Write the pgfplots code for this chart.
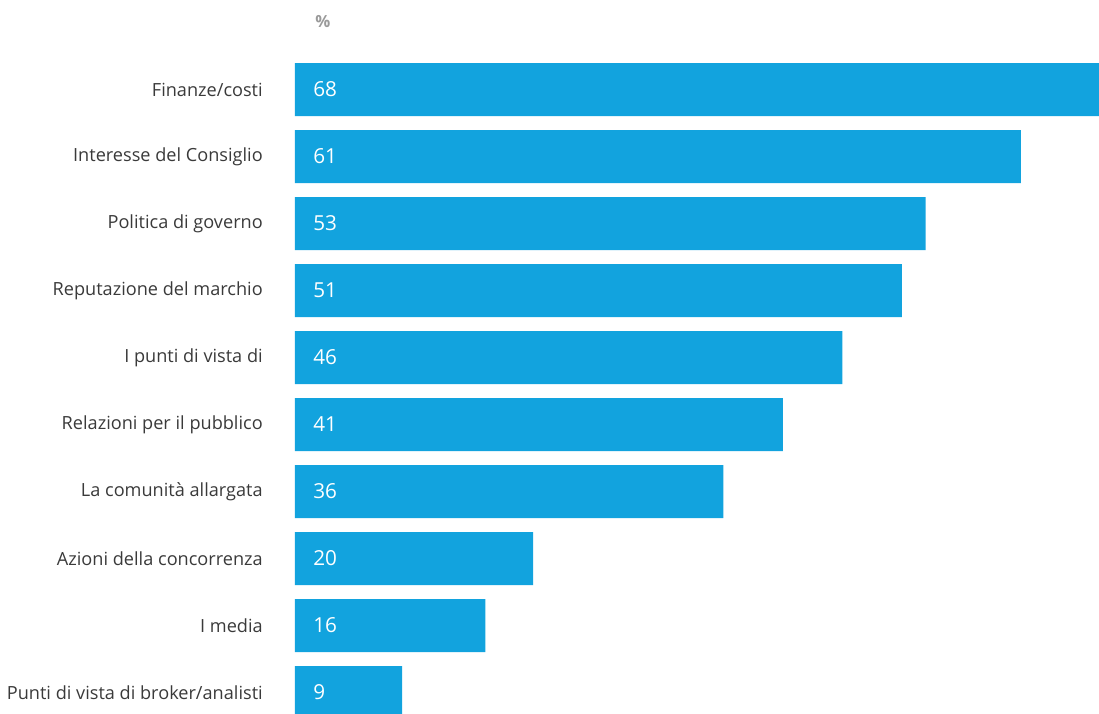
\documentclass[border=0pt]{standalone}
\usepackage{pgfplots}
\pgfplotsset{compat=1.18}
\usepackage{fontspec}
\setmainfont{Open Sans}
\definecolor{barblue}{HTML}{12A3DE}
\definecolor{labgray}{HTML}{3A3A3A}
\definecolor{pctgray}{HTML}{9A9A9A}
\begin{document}
\begin{tikzpicture}
\begin{axis}[
  scale only axis,
  width=603pt, height=534.75pt,
  xmin=0, xmax=67.56,
  ymin=-1.3358, ymax=9.306,
  y dir=reverse,
  axis line style={draw=none},
  xtick=\empty,
  ytick={0,...,9},
  yticklabels={Finanze/costi,Interesse del Consiglio,Politica di governo,Reputazione del marchio,I punti di vista di,Relazioni per il pubblico,La comunità allargata,Azioni della concorrenza,I media,Punti di vista di broker/analisti},
  major tick length=0pt,
  yticklabel style={font=\fontsize{13.6}{16}\selectfont, text=labgray, anchor=east, inner sep=0pt, xshift=-24pt},
]
\addplot[xbar, bar width=39.75pt, fill=barblue, draw=none] coordinates {
 (68,0) (61,1) (53,2) (51,3) (46,4) (41,5) (36,6) (20,7) (16,8) (9,9)
};
\addplot[draw=none, no markers, nodes near coords, point meta=explicit symbolic,
  nodes near coords style={anchor=west, text=white, font=\fontsize{15.5}{18}\selectfont, inner sep=0pt, xshift=13.5pt}]
  table[meta=v] {
x y v
0 0 68
0 1 61
0 2 53
0 3 51
0 4 46
0 5 41
0 6 36
0 7 20
0 8 16
0 9 9
};
\node[font=\bfseries\fontsize{12.5}{14}\selectfont, text=pctgray] at (axis cs:2.35,-1.007) {\%};
\end{axis}
\pgfresetboundingbox
\path ([xshift=-221.25pt]current axis.south west) rectangle (current axis.north east);
\end{tikzpicture}
\end{document}
